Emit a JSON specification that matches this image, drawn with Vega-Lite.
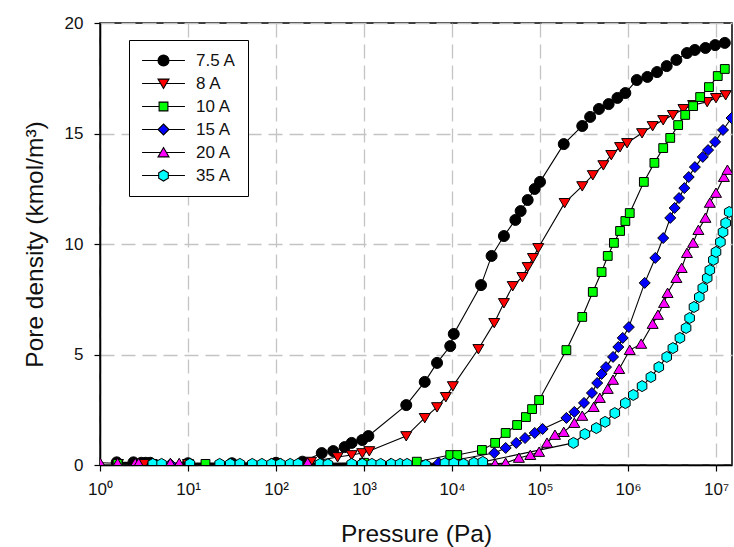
{
  "$schema": "https://vega.github.io/schema/vega-lite/v6.json",
  "width": 632,
  "height": 442,
  "autosize": "none",
  "padding": {"left": 100, "top": 23, "right": 2, "bottom": 82},
  "background": "white",
  "config": {
    "font": "Liberation Sans",
    "view": {"stroke": "black", "strokeWidth": 1.5},
    "legend": {
      "orient": "none", "legendX": 29, "legendY": 17,
      "strokeColor": "black", "fillColor": "white",
      "padding": 12, "labelFontSize": 17, "labelColor": "#111", "labelOffset": 24,
      "symbolSize": 121, "symbolStrokeWidth": 1.1, "rowPadding": 5, "symbolOffset": 14
    }
  },
  "datasets": {
    "pts": [
      {"s":"7.5 A","p":1.55,"d":0.12},{"s":"7.5 A","p":2.4,"d":0.12},{"s":"7.5 A","p":2.95,"d":0.1},{"s":"7.5 A","p":3.31,"d":0.1},{"s":"7.5 A","p":3.72,"d":0.1},{"s":"7.5 A","p":10,"d":0.08},{"s":"7.5 A","p":31.6,"d":0.08},{"s":"7.5 A","p":100,"d":0.1},{"s":"7.5 A","p":200,"d":0.15},
      {"s":"7.5 A","p":331,"d":0.54},{"s":"7.5 A","p":447,"d":0.63},{"s":"7.5 A","p":603,"d":0.81},{"s":"7.5 A","p":724,"d":1.0},{"s":"7.5 A","p":955,"d":1.13},{"s":"7.5 A","p":1122,"d":1.31},{"s":"7.5 A","p":3020,"d":2.71},{"s":"7.5 A","p":4898,"d":3.76},{"s":"7.5 A","p":6761,"d":4.62},{"s":"7.5 A","p":9550,"d":5.38},{"s":"7.5 A","p":10470,"d":5.93},{"s":"7.5 A","p":21380,"d":8.14},{"s":"7.5 A","p":28180,"d":9.46},{"s":"7.5 A","p":38900,"d":10.36},{"s":"7.5 A","p":52480,"d":11.09},{"s":"7.5 A","p":60260,"d":11.49},{"s":"7.5 A","p":72440,"d":11.99},{"s":"7.5 A","p":87100,"d":12.49},{"s":"7.5 A","p":100000,"d":12.81},{"s":"7.5 A","p":186200,"d":14.52},{"s":"7.5 A","p":302000,"d":15.34},{"s":"7.5 A","p":371500,"d":15.75},{"s":"7.5 A","p":467700,"d":16.11},{"s":"7.5 A","p":602600,"d":16.33},{"s":"7.5 A","p":758600,"d":16.61},{"s":"7.5 A","p":933000,"d":16.83},{"s":"7.5 A","p":1259000,"d":17.42},{"s":"7.5 A","p":1660000,"d":17.56},{"s":"7.5 A","p":2138000,"d":17.78},{"s":"7.5 A","p":2754000,"d":18.05},{"s":"7.5 A","p":3548000,"d":18.33},{"s":"7.5 A","p":4677000,"d":18.64},{"s":"7.5 A","p":5754000,"d":18.78},{"s":"7.5 A","p":7586000,"d":18.87},{"s":"7.5 A","p":9772000,"d":19.0},{"s":"7.5 A","p":12590000,"d":19.1},

      {"s":"8 A","p":1.6,"d":0.05},{"s":"8 A","p":3.2,"d":0.05},{"s":"8 A","p":10,"d":0.05},{"s":"8 A","p":100,"d":0.08},{"s":"8 A","p":250,"d":0.15},{"s":"8 A","p":501,"d":0.36},{"s":"8 A","p":724,"d":0.45},{"s":"8 A","p":955,"d":0.54},{"s":"8 A","p":1148,"d":0.63},{"s":"8 A","p":3020,"d":1.31},{"s":"8 A","p":4898,"d":2.13},{"s":"8 A","p":6761,"d":2.62},{"s":"8 A","p":8511,"d":3.08},{"s":"8 A","p":10230,"d":3.57},{"s":"8 A","p":19950,"d":5.25},{"s":"8 A","p":30200,"d":6.43},{"s":"8 A","p":38900,"d":7.33},{"s":"8 A","p":48980,"d":8.1},{"s":"8 A","p":63100,"d":8.51},{"s":"8 A","p":72440,"d":8.96},{"s":"8 A","p":83180,"d":9.37},{"s":"8 A","p":95500,"d":9.82},{"s":"8 A","p":190500,"d":11.86},{"s":"8 A","p":302000,"d":12.62},{"s":"8 A","p":398100,"d":13.12},{"s":"8 A","p":524800,"d":13.57},{"s":"8 A","p":645700,"d":14.03},{"s":"8 A","p":812800,"d":14.39},{"s":"8 A","p":977200,"d":14.57},{"s":"8 A","p":1445000,"d":15.02},{"s":"8 A","p":1905000,"d":15.34},{"s":"8 A","p":2512000,"d":15.61},{"s":"8 A","p":3236000,"d":15.84},{"s":"8 A","p":4266000,"d":16.11},{"s":"8 A","p":5495000,"d":16.29},{"s":"8 A","p":7943000,"d":16.43},{"s":"8 A","p":10000000,"d":16.61},{"s":"8 A","p":12880000,"d":16.74},

      {"s":"10 A","p":1.585,"d":0.05},{"s":"10 A","p":3.98,"d":0.05},{"s":"10 A","p":15.8,"d":0.05},{"s":"10 A","p":100,"d":0.05},{"s":"10 A","p":1000,"d":0.1},{"s":"10 A","p":3981,"d":0.15},{"s":"10 A","p":9550,"d":0.45},{"s":"10 A","p":11480,"d":0.45},{"s":"10 A","p":21880,"d":0.68},{"s":"10 A","p":30900,"d":1.0},{"s":"10 A","p":40740,"d":1.45},{"s":"10 A","p":54950,"d":1.81},{"s":"10 A","p":69180,"d":2.17},{"s":"10 A","p":81280,"d":2.53},{"s":"10 A","p":97720,"d":2.94},{"s":"10 A","p":199500,"d":5.2},{"s":"10 A","p":302000,"d":6.7},{"s":"10 A","p":398100,"d":7.83},{"s":"10 A","p":501200,"d":8.73},{"s":"10 A","p":588800,"d":9.46},{"s":"10 A","p":691800,"d":10.05},{"s":"10 A","p":812800,"d":10.59},{"s":"10 A","p":933300,"d":11.04},{"s":"10 A","p":1047000,"d":11.4},{"s":"10 A","p":1514000,"d":12.81},{"s":"10 A","p":1995000,"d":13.67},{"s":"10 A","p":2512000,"d":14.34},{"s":"10 A","p":3020000,"d":14.8},{"s":"10 A","p":3715000,"d":15.38},{"s":"10 A","p":4467000,"d":15.84},{"s":"10 A","p":5495000,"d":16.24},{"s":"10 A","p":6607000,"d":16.65},{"s":"10 A","p":8318000,"d":17.1},{"s":"10 A","p":10470000,"d":17.6},{"s":"10 A","p":12590000,"d":17.92},

      {"s":"15 A","p":6.31,"d":0.05},{"s":"15 A","p":31.6,"d":0.05},{"s":"15 A","p":316,"d":0.05},{"s":"15 A","p":1995,"d":0.05},{"s":"15 A","p":7079,"d":0.09},{"s":"15 A","p":30200,"d":0.54},{"s":"15 A","p":40740,"d":0.77},{"s":"15 A","p":53700,"d":1.0},{"s":"15 A","p":67610,"d":1.22},{"s":"15 A","p":87100,"d":1.45},{"s":"15 A","p":107200,"d":1.63},{"s":"15 A","p":199500,"d":2.13},{"s":"15 A","p":245500,"d":2.4},{"s":"15 A","p":316200,"d":2.81},{"s":"15 A","p":389000,"d":3.26},{"s":"15 A","p":446700,"d":3.71},{"s":"15 A","p":501200,"d":4.12},{"s":"15 A","p":562300,"d":4.43},{"s":"15 A","p":676100,"d":4.89},{"s":"15 A","p":776200,"d":5.34},{"s":"15 A","p":871000,"d":5.75},{"s":"15 A","p":1023000,"d":6.24},{"s":"15 A","p":1549000,"d":8.24},{"s":"15 A","p":2042000,"d":9.37},{"s":"15 A","p":2512000,"d":10.27},{"s":"15 A","p":3020000,"d":11.18},{"s":"15 A","p":3388000,"d":11.63},{"s":"15 A","p":3802000,"d":12.08},{"s":"15 A","p":4365000,"d":12.53},{"s":"15 A","p":4898000,"d":13.03},{"s":"15 A","p":5754000,"d":13.48},{"s":"15 A","p":7079000,"d":13.94},{"s":"15 A","p":8128000,"d":14.25},{"s":"15 A","p":9772000,"d":14.62},{"s":"15 A","p":12020000,"d":15.16},{"s":"15 A","p":15000000,"d":15.7},

      {"s":"20 A","p":1,"d":0.1},{"s":"20 A","p":1.585,"d":0.08},{"s":"20 A","p":2.51,"d":0.08},{"s":"20 A","p":2.75,"d":0.08},{"s":"20 A","p":6.31,"d":0.08},{"s":"20 A","p":7.94,"d":0.08},{"s":"20 A","p":229,"d":0.1},{"s":"20 A","p":398,"d":0.05},{"s":"20 A","p":1000,"d":0.05},{"s":"20 A","p":3162,"d":0.05},{"s":"20 A","p":10000,"d":0.05},{"s":"20 A","p":19950,"d":0.05},{"s":"20 A","p":30900,"d":0.05},{"s":"20 A","p":40740,"d":0.09},{"s":"20 A","p":57540,"d":0.32},{"s":"20 A","p":77620,"d":0.45},{"s":"20 A","p":97720,"d":0.59},{"s":"20 A","p":120200,"d":1.0},{"s":"20 A","p":147900,"d":1.36},{"s":"20 A","p":186200,"d":1.49},{"s":"20 A","p":245500,"d":1.9},{"s":"20 A","p":302000,"d":2.22},{"s":"20 A","p":407400,"d":2.62},{"s":"20 A","p":478600,"d":3.03},{"s":"20 A","p":588800,"d":3.44},{"s":"20 A","p":676100,"d":3.85},{"s":"20 A","p":794300,"d":4.34},{"s":"20 A","p":1047000,"d":5.2},{"s":"20 A","p":1413000,"d":5.48},{"s":"20 A","p":1905000,"d":6.38},{"s":"20 A","p":2188000,"d":6.79},{"s":"20 A","p":2570000,"d":7.33},{"s":"20 A","p":2818000,"d":7.78},{"s":"20 A","p":3548000,"d":8.46},{"s":"20 A","p":4074000,"d":8.91},{"s":"20 A","p":4677000,"d":9.59},{"s":"20 A","p":5495000,"d":10.05},{"s":"20 A","p":6310000,"d":10.63},{"s":"20 A","p":7586000,"d":11.18},{"s":"20 A","p":8511000,"d":11.86},{"s":"20 A","p":10000000,"d":12.31},{"s":"20 A","p":12300000,"d":13.03},{"s":"20 A","p":13490000,"d":13.35},

      {"s":"35 A","p":3.98,"d":0.05},{"s":"35 A","p":5.01,"d":0.05},{"s":"35 A","p":10.5,"d":0.05},{"s":"35 A","p":22.9,"d":0.05},{"s":"35 A","p":30.2,"d":0.05},{"s":"35 A","p":38.9,"d":0.05},{"s":"35 A","p":53.7,"d":0.05},{"s":"35 A","p":69.2,"d":0.05},{"s":"35 A","p":89.1,"d":0.05},{"s":"35 A","p":112,"d":0.05},{"s":"35 A","p":145,"d":0.05},{"s":"35 A","p":178,"d":0.05},{"s":"35 A","p":316,"d":0.05},{"s":"35 A","p":389,"d":0.03},{"s":"35 A","p":724,"d":0.05},{"s":"35 A","p":955,"d":0.05},{"s":"35 A","p":1230,"d":0.05},{"s":"35 A","p":1549,"d":0.05},{"s":"35 A","p":2042,"d":0.05},{"s":"35 A","p":2570,"d":0.05},{"s":"35 A","p":3090,"d":0.05},{"s":"35 A","p":5012,"d":0.0},{"s":"35 A","p":8318,"d":0.08},{"s":"35 A","p":10470,"d":0.08},{"s":"35 A","p":13490,"d":0.05},{"s":"35 A","p":17780,"d":0.1},{"s":"35 A","p":22390,"d":0.14},{"s":"35 A","p":239900,"d":1.0},{"s":"35 A","p":323600,"d":1.4},{"s":"35 A","p":436500,"d":1.67},{"s":"35 A","p":549500,"d":1.95},{"s":"35 A","p":707900,"d":2.35},{"s":"35 A","p":933300,"d":2.8},{"s":"35 A","p":1148000,"d":3.17},{"s":"35 A","p":1445000,"d":3.57},{"s":"35 A","p":1820000,"d":3.98},{"s":"35 A","p":2239000,"d":4.43},{"s":"35 A","p":2754000,"d":4.89},{"s":"35 A","p":3236000,"d":5.29},{"s":"35 A","p":3890000,"d":5.75},{"s":"35 A","p":4571000,"d":6.2},{"s":"35 A","p":5012000,"d":6.65},{"s":"35 A","p":5623000,"d":7.15},{"s":"35 A","p":6457000,"d":7.6},{"s":"35 A","p":7079000,"d":8.01},{"s":"35 A","p":7943000,"d":8.46},{"s":"35 A","p":8511000,"d":8.82},{"s":"35 A","p":9333000,"d":9.28},{"s":"35 A","p":10000000,"d":9.64},{"s":"35 A","p":11220000,"d":10.09},{"s":"35 A","p":12020000,"d":10.54},{"s":"35 A","p":12880000,"d":10.95},{"s":"35 A","p":14130000,"d":11.45}
    ]
  },
  "data": {"name": "pts"},
  "encoding": {
    "x": {
      "field": "p", "type": "quantitative",
      "scale": {"type": "log", "domain": [1, 15200000], "nice": false},
      "axis": {
        "title": "Pressure (Pa)",
        "titleFontSize": 24.5, "titleFontWeight": "normal", "titleColor": "#111", "titlePadding": 25,
        "values": [1, 10, 100, 1000, 10000, 100000, 1000000, 10000000],
        "labelExpr": "'10' + ['⁰','¹','²','³','⁴','⁵','⁶','⁷'][round(log(datum.value)/LN10)]",
        "labelFontSize": 17, "labelColor": "#111", "labelPadding": 10, "labelFlush": false,
        "tickSize": 6, "tickColor": "black", "tickWidth": 1.2,
        "domainColor": "black", "domainWidth": 1.5,
        "grid": true, "gridColor": "#c4c4c4", "gridDash": [14, 7], "gridWidth": 1.3
      }
    },
    "y": {
      "field": "d", "type": "quantitative",
      "scale": {"domain": [0, 20], "nice": false},
      "axis": {
        "title": "Pore density (kmol/m³)",
        "titleFontSize": 24.5, "titleFontWeight": "normal", "titleColor": "#111", "titlePadding": 17,
        "values": [0, 5, 10, 15, 20],
        "labelFontSize": 17, "labelColor": "#111", "labelPadding": 11,
        "tickSize": 6, "tickColor": "black", "tickWidth": 1.2,
        "domainColor": "black", "domainWidth": 1.5,
        "grid": true, "gridColor": "#c4c4c4", "gridDash": [14, 7], "gridWidth": 1.3
      }
    }
  },
  "resolve": {"scale": {"fill": "independent", "shape": "independent", "stroke": "independent"}},
  "layer": [
    {
      "mark": {"type": "line", "color": "black", "strokeWidth": 1.1, "clip": true},
      "encoding": {"detail": {"field": "s"}}
    },
    {
      "mark": {"type": "point", "filled": true, "opacity": 1, "stroke": "black", "strokeWidth": 1, "size": 121, "clip": true},
      "encoding": {
        "fill": {
          "field": "s", "type": "nominal", "legend": null,
          "scale": {"domain": ["7.5 A", "8 A", "10 A", "15 A", "20 A", "35 A"], "range": ["#000000", "#ff0000", "#00ff00", "#0000ff", "#ff00ff", "#00ffff"]}
        },
        "shape": {
          "field": "s", "type": "nominal", "legend": null,
          "scale": {"domain": ["7.5 A", "8 A", "10 A", "15 A", "20 A", "35 A"], "range": ["circle", "M-1,-0.8L1,-0.8L0,0.9Z", "M-0.8,-0.8H0.8V0.8H-0.8Z", "M0,-1L1,0L0,1L-1,0Z", "M0,-0.9L1,0.8L-1,0.8Z", "M0,-1L0.87,-0.5L0.87,0.5L0,1L-0.87,0.5L-0.87,-0.5Z"]}
        }
      }
    },
    {
      "transform": [{"filter": "datum.p < 0"}],
      "mark": {"type": "point", "filled": true, "opacity": 1, "strokeWidth": 1, "size": 121},
      "encoding": {
        "fill": {
          "field": "s", "type": "nominal", "legend": {"title": null},
          "scale": {"domain": ["7.5 A", "8 A", "10 A", "15 A", "20 A", "35 A"], "range": ["#000000", "#ff0000", "#00ff00", "#0000ff", "#ff00ff", "#00ffff"]}
        },
        "stroke": {
          "field": "s", "type": "nominal", "legend": {"title": null},
          "scale": {"domain": ["7.5 A", "8 A", "10 A", "15 A", "20 A", "35 A"], "range": ["#000000", "#000000", "#000000", "#000000", "#000000", "#000000"]}
        },
        "shape": {
          "field": "s", "type": "nominal", "legend": {"title": null},
          "scale": {"domain": ["7.5 A", "8 A", "10 A", "15 A", "20 A", "35 A"], "range": ["M-3.9,0H-1M1,0H3.9M-1,0A1,1 0 1,0 1,0A1,1 0 1,0 -1,0Z", "M-3.9,0H-0.53M0.53,0H3.9M-1,-0.8L1,-0.8L0,0.9Z", "M-3.9,0H-0.8M0.8,0H3.9M-0.8,-0.8H0.8V0.8H-0.8Z", "M-3.9,0H-1M1,0H3.9M0,-1L1,0L0,1L-1,0Z", "M-3.9,0H-0.53M0.53,0H3.9M0,-0.9L1,0.8L-1,0.8Z", "M-3.9,0H-0.87M0.87,0H3.9M0,-1L0.87,-0.5L0.87,0.5L0,1L-0.87,0.5L-0.87,-0.5Z"]}
        }
      }
    }
  ]
}
